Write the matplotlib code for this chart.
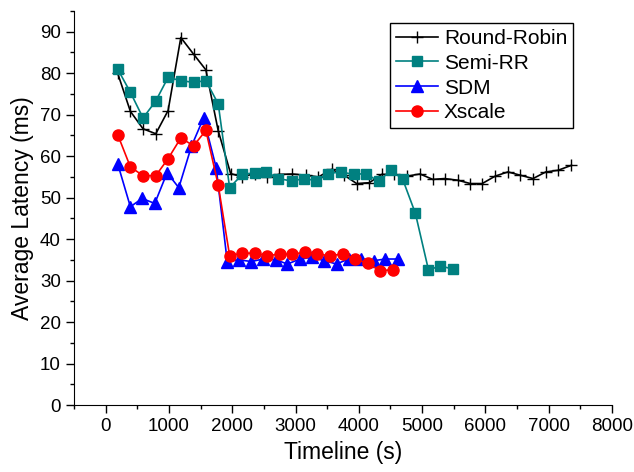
import matplotlib
matplotlib.use('Agg')
import matplotlib.pyplot as plt
from matplotlib.ticker import MultipleLocator

plt.rcParams['font.family'] = ['Liberation Sans', 'DejaVu Sans']

# Round-Robin
rr_x = [190, 391, 591, 792, 987, 1188, 1389, 1584, 1779, 1975, 2159, 2355, 2550,
        2740, 2951, 3163, 3363, 3569, 3770, 3965, 4166, 4361, 4562, 4762, 4967,
        5169, 5354, 5565, 5760, 5950, 6156, 6356, 6553, 6753, 6954, 7149, 7360]
rr_y = [80, 70.8, 66.6, 65.4, 71, 88.6, 84.6, 80.8, 66.1, 55.8, 55, 55.8, 55,
        55.6, 55.7, 55.4, 55, 56.8, 55.4, 53.4, 53.6, 55.6, 55.6, 55.2, 55.7,
        54.4, 54.6, 54.2, 53.4, 53.4, 55.2, 56.2, 55.4, 54.6, 56.2, 56.6, 57.8]

# Semi-RR
semi_x = [190, 391, 591, 792, 987, 1188, 1389, 1584, 1779, 1959, 2159, 2355, 2539,
          2729, 2940, 3137, 3322, 3517, 3717, 3917, 4113, 4313, 4509, 4694, 4894,
          5100, 5290, 5485]
semi_y = [81, 75.4, 69.2, 73.3, 79, 78.2, 77.8, 78.2, 72.6, 52.4, 55.6, 56, 56.2,
          54.6, 54, 54.6, 54.1, 55.8, 56.2, 55.6, 55.8, 53.9, 56.6, 54.4, 46.2,
          32.6, 33.5, 32.8]

# SDM
sdm_x = [190, 391, 576, 776, 971, 1156, 1356, 1547, 1747, 1921, 2107, 2302, 2490,
         2688, 2872, 3073, 3258, 3453, 3648, 3838, 4033, 4234, 4419, 4614]
sdm_y = [58.2, 47.8, 49.8, 48.6, 56, 52.4, 62.4, 69.2, 57.2, 34.6, 35, 34.6, 35.2,
         35, 34, 35.2, 35.6, 34.8, 34, 35.2, 35.2, 34.8, 35.2, 35.2]

# Xscale
xs_x = [190, 391, 591, 792, 987, 1188, 1389, 1584, 1779, 1959, 2159, 2360, 2555,
        2751, 2951, 3146, 3347, 3543, 3743, 3939, 4139, 4335, 4535]
xs_y = [65.2, 57.4, 55.3, 55.3, 59.4, 64.4, 62.5, 66.2, 53, 36, 36.6, 36.6, 36,
        36.4, 36.4, 36.8, 36.4, 36, 36.4, 35.2, 34.2, 32.4, 32.6]

fig = plt.figure(figsize=(6.34, 4.72), dpi=100)
ax = fig.add_axes([0.1167, 0.1419, 0.8486, 0.8348])

ax.plot(rr_x, rr_y, color='black', marker='+', markersize=8, lw=1.2,
        markeredgewidth=1.0, label='Round-Robin')
ax.plot(semi_x, semi_y, color='#008080', marker='s', markersize=7, lw=1.2,
        label='Semi-RR')
ax.plot(sdm_x, sdm_y, color='#0000FF', marker='^', markersize=8.5, lw=1.2,
        label='SDM')
ax.plot(xs_x, xs_y, color='#FF0000', marker='o', markersize=8, lw=1.2,
        label='Xscale')

ax.set_xlim(-500, 8000)
ax.set_ylim(0, 95)
ax.xaxis.set_major_locator(MultipleLocator(1000))
ax.xaxis.set_minor_locator(MultipleLocator(500))
ax.yaxis.set_major_locator(MultipleLocator(10))
ax.yaxis.set_minor_locator(MultipleLocator(5))
ax.spines['top'].set_visible(False)
ax.spines['right'].set_visible(False)
ax.tick_params(which='major', direction='out', length=6, width=1, labelsize=13.5)
ax.tick_params(which='minor', direction='out', length=3, width=1)

ax.set_xlabel('Timeline (s)', fontsize=16.5)
ax.set_ylabel('Average Latency (ms)', fontsize=16.5)

leg = ax.legend(loc='upper right', bbox_to_anchor=(0.9275, 0.9695), fontsize=15,
                fancybox=False, edgecolor='black', framealpha=1,
                borderaxespad=0, handlelength=2.0, borderpad=0.28,
                labelspacing=0.28, handletextpad=0.3)
leg.get_frame().set_linewidth(1.0)

fig.savefig('out.png', dpi=100)
